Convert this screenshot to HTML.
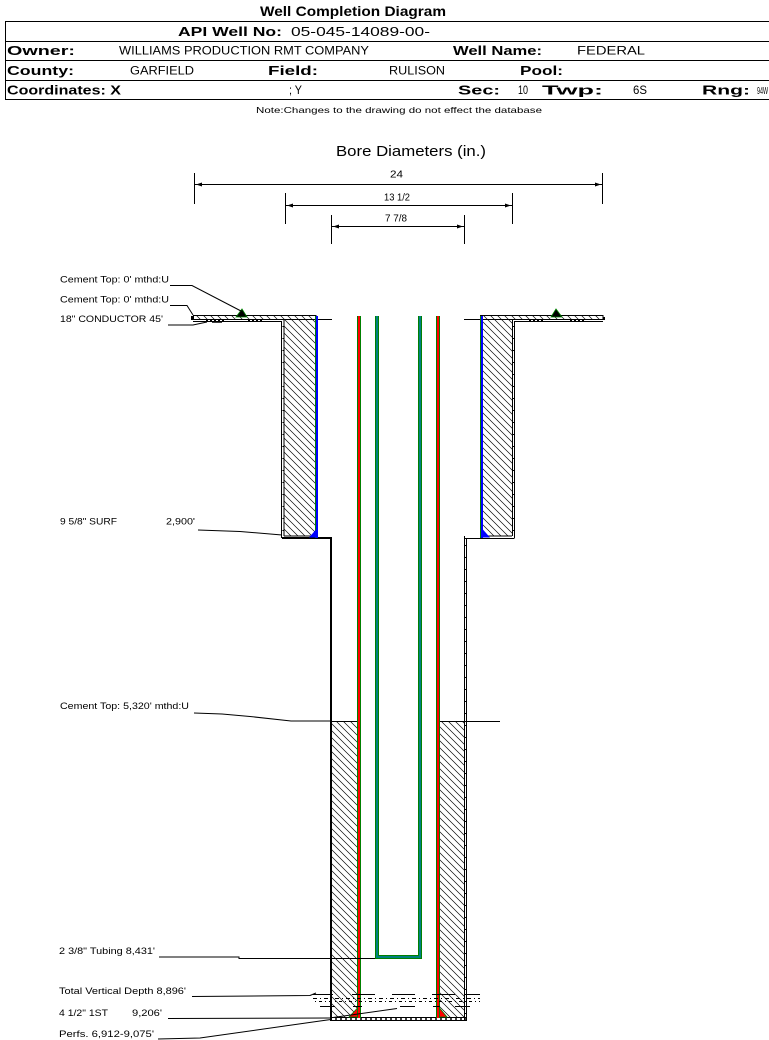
<!DOCTYPE html>
<html><head><meta charset="utf-8"><style>
html,body{margin:0;padding:0;background:#fff;}
svg{display:block;}
text{font-family:"Liberation Sans",Arial,sans-serif;fill:#000;}
.b{font-weight:bold;}
</style></head><body>
<svg width="769" height="1040" viewBox="0 0 769 1040" xmlns="http://www.w3.org/2000/svg">
<defs>
<pattern id="h" patternUnits="userSpaceOnUse" width="7" height="7">
<path d="M-1,-1 L8,8 M-1,6 L1,8 M6,-1 L8,1" stroke="#000" stroke-width="0.65" fill="none"/>
</pattern>
</defs>
<rect width="769" height="1040" fill="#fff"/>

<!-- Header -->
<text class="b" x="260" y="16" font-size="13.5" textLength="186" lengthAdjust="spacingAndGlyphs">Well Completion Diagram</text>
<g stroke="#000" stroke-width="1" fill="none">
<line x1="5" y1="21.5" x2="769" y2="21.5"/>
<line x1="5" y1="41.5" x2="769" y2="41.5"/>
<line x1="5" y1="60.5" x2="769" y2="60.5"/>
<line x1="5" y1="80.5" x2="769" y2="80.5"/>
<line x1="5" y1="99.5" x2="769" y2="99.5"/>
<line x1="5.5" y1="21.5" x2="5.5" y2="99.5"/>
</g>
<text class="b" x="178" y="36" font-size="13" textLength="104" lengthAdjust="spacingAndGlyphs">API Well No:</text>
<text x="291" y="36" font-size="13" textLength="139" lengthAdjust="spacingAndGlyphs">05-045-14089-00-</text>

<text class="b" x="7" y="55" font-size="13" textLength="68" lengthAdjust="spacingAndGlyphs">Owner:</text>
<text x="119" y="54.5" font-size="11.5" textLength="250" lengthAdjust="spacingAndGlyphs">WILLIAMS PRODUCTION RMT COMPANY</text>
<text class="b" x="453" y="55" font-size="13" textLength="89" lengthAdjust="spacingAndGlyphs">Well Name:</text>
<text x="577" y="54.5" font-size="11.5" textLength="68" lengthAdjust="spacingAndGlyphs">FEDERAL</text>

<text class="b" x="7" y="75" font-size="13" textLength="67" lengthAdjust="spacingAndGlyphs">County:</text>
<text x="130" y="74.5" font-size="11.5" textLength="64" lengthAdjust="spacingAndGlyphs">GARFIELD</text>
<text class="b" x="268" y="75" font-size="13" textLength="50" lengthAdjust="spacingAndGlyphs">Field:</text>
<text x="389" y="74.5" font-size="11.5" textLength="56" lengthAdjust="spacingAndGlyphs">RULISON</text>
<text class="b" x="520" y="75" font-size="13" textLength="43" lengthAdjust="spacingAndGlyphs">Pool:</text>

<text class="b" x="7" y="94.5" font-size="13" textLength="114" lengthAdjust="spacingAndGlyphs">Coordinates: X</text>
<text x="289" y="94" font-size="11.5" textLength="13" lengthAdjust="spacingAndGlyphs">; Y</text>
<text class="b" x="458" y="94.5" font-size="13" textLength="42" lengthAdjust="spacingAndGlyphs">Sec:</text>
<text x="518" y="94" font-size="11.5" textLength="10" lengthAdjust="spacingAndGlyphs">10</text>
<text class="b" x="542" y="94.5" font-size="13" textLength="61" lengthAdjust="spacingAndGlyphs">Twp:</text>
<text x="633" y="94" font-size="11.5" textLength="14" lengthAdjust="spacingAndGlyphs">6S</text>
<text class="b" x="702" y="94.5" font-size="13" textLength="48" lengthAdjust="spacingAndGlyphs">Rng:</text>
<text x="757" y="94" font-size="10" textLength="11" lengthAdjust="spacingAndGlyphs">94W</text>

<text x="256" y="113" font-size="8.5" textLength="286" lengthAdjust="spacingAndGlyphs">Note:Changes to the drawing do not effect the database</text>

<!-- Bore diameters -->
<text x="336" y="156" font-size="15" textLength="150" lengthAdjust="spacingAndGlyphs">Bore Diameters (in.)</text>
<g stroke="#000" stroke-width="1" fill="none">
<line x1="194.5" y1="173" x2="194.5" y2="204"/>
<line x1="602.5" y1="173" x2="602.5" y2="204"/>
<line x1="195" y1="184.5" x2="602" y2="184.5"/>
<line x1="285.5" y1="193" x2="285.5" y2="224"/>
<line x1="512.5" y1="193" x2="512.5" y2="224"/>
<line x1="286" y1="205.5" x2="512" y2="205.5"/>
<line x1="331.5" y1="215" x2="331.5" y2="244"/>
<line x1="464.5" y1="215" x2="464.5" y2="244"/>
<line x1="332" y1="226.5" x2="464" y2="226.5"/>
</g>
<g fill="#000">
<polygon points="196,184.5 202,182.5 202,186.5"/>
<polygon points="601,184.5 595,182.5 595,186.5"/>
<polygon points="287,205.5 293,203.5 293,207.5"/>
<polygon points="511,205.5 505,203.5 505,207.5"/>
<polygon points="333,226.5 339,224.5 339,228.5"/>
<polygon points="463,226.5 457,224.5 457,228.5"/>
</g>
<text x="390" y="177.5" font-size="10" textLength="13" lengthAdjust="spacingAndGlyphs">24</text>
<text x="384" y="200.5" font-size="10" textLength="26" lengthAdjust="spacingAndGlyphs">13 1/2</text>
<text x="385" y="221.5" font-size="10" textLength="22" lengthAdjust="spacingAndGlyphs">7 7/8</text>

<!-- Hatched cement regions -->
<rect x="193" y="316" width="123" height="3.5" fill="url(#h)"/>
<rect x="481" y="316" width="122" height="3.5" fill="url(#h)"/>
<rect x="284" y="320" width="31" height="216" fill="url(#h)"/>
<rect x="483" y="320" width="29" height="216" fill="url(#h)"/>
<rect x="332" y="721" width="25" height="296" fill="url(#h)"/>
<rect x="440" y="721" width="24" height="296" fill="url(#h)"/>

<!-- Conductor strips -->
<g stroke="#000" stroke-width="1" fill="none">
<rect x="193.5" y="315.5" width="122.5" height="4"/>
<rect x="480.5" y="315.5" width="122.5" height="4"/>
<line x1="316" y1="319.5" x2="332" y2="319.5"/>
<line x1="464" y1="319.5" x2="480" y2="319.5"/>
<polyline points="193,321.5 281.5,321.5 281.5,538"/>
<line x1="284" y1="320" x2="284" y2="536"/>
<polyline points="603,321.5 514.5,321.5 514.5,538"/>
<line x1="512.5" y1="320" x2="512.5" y2="536"/>
<line x1="284" y1="536" x2="315" y2="536"/>
<line x1="483" y1="536" x2="512" y2="536"/>
<line x1="465" y1="538.5" x2="514.5" y2="538.5"/>
<line x1="464.5" y1="536" x2="464.5" y2="1020"/>
<line x1="466.5" y1="538" x2="466.5" y2="1021"/>
<line x1="331" y1="1017.5" x2="467" y2="1017.5"/>
<line x1="331" y1="1020.5" x2="467" y2="1020.5"/>
</g>
<polyline points="282,538 331,538 331,1021" stroke="#000" stroke-width="2" fill="none"/>
<g stroke="#000" stroke-width="1.2" stroke-dasharray="1 11" fill="none">
<line x1="283" y1="326" x2="283" y2="536"/>
<line x1="513.5" y1="326" x2="513.5" y2="536"/>
<line x1="465.5" y1="545" x2="465.5" y2="1017"/>
<line x1="335" y1="1019" x2="466" y2="1019" stroke-dasharray="2 3" stroke-width="1.5"/>
<line x1="206" y1="320.5" x2="226" y2="320.5" stroke-dasharray="2 2" stroke-width="2"/>
<line x1="248" y1="320.5" x2="263" y2="320.5" stroke-dasharray="2 2" stroke-width="2"/>
<line x1="529" y1="320.5" x2="544" y2="320.5" stroke-dasharray="2 2" stroke-width="2"/>
<line x1="570" y1="320.5" x2="584" y2="320.5" stroke-dasharray="2 2" stroke-width="2"/>
</g>
<rect x="603" y="317" width="2" height="3" fill="#000"/>
<rect x="191" y="316" width="2" height="4" fill="#000"/>

<!-- Cement top lines -->
<g stroke="#000" stroke-width="1" fill="none">
<polyline points="194,713 222,714 250,716.5 291,721 331,721"/>
<line x1="332" y1="721.5" x2="357" y2="721.5"/>
<line x1="440" y1="721.5" x2="500" y2="721.5"/>
</g>

<!-- Surface casing (blue) -->
<rect x="315" y="316" width="1" height="222" fill="#008000"/>
<rect x="316" y="316" width="2" height="222" fill="#0000ff"/>
<rect x="480" y="316" width="1" height="222" fill="#008000"/>
<rect x="481" y="316" width="2" height="222" fill="#0000ff"/>
<polygon points="309,537.5 316.5,537.5 316.5,529" fill="#0000ff"/>
<polygon points="482.5,529 482.5,537.5 490,537.5" fill="#0000ff"/>

<!-- Production casing (red) -->
<rect x="357" y="316" width="4" height="702" fill="#008000"/>
<rect x="358" y="316" width="2" height="702" fill="#ff0000"/>
<rect x="436" y="316" width="4" height="702" fill="#008000"/>
<rect x="437" y="316" width="2" height="702" fill="#ff0000"/>
<polygon points="357.5,1008 357.5,1017 349,1017" fill="#ff0000" stroke="#008000" stroke-width="0.8"/>
<polygon points="439.5,1008 439.5,1017 447,1017" fill="#ff0000" stroke="#008000" stroke-width="0.8"/>

<!-- Tubing -->
<polyline points="377,316 377,957 420,957 420,316" fill="none" stroke="#008000" stroke-width="4"/>
<polyline points="377,316 377,957 420,957 420,316" fill="none" stroke="#008080" stroke-width="2"/>

<!-- Cement top markers -->
<polygon points="236,317 242,309 247,317" fill="#000" stroke="#008000" stroke-width="0.8"/>
<polygon points="551,317 556,309 562,317" fill="#000" stroke="#008000" stroke-width="0.8"/>

<!-- Perforation / TVD pattern -->
<g stroke="#000" fill="none">
<line x1="313" y1="994.5" x2="333" y2="994.5" stroke-width="1"/>
<line x1="352" y1="994.5" x2="375" y2="994.5" stroke-width="1"/>
<line x1="392" y1="994.5" x2="415" y2="994.5" stroke-width="1"/>
<line x1="432" y1="994.5" x2="455" y2="994.5" stroke-width="1"/>
<line x1="465" y1="994.5" x2="480" y2="994.5" stroke-width="1"/>
<line x1="313" y1="998.5" x2="480" y2="998.5" stroke-width="1" stroke-dasharray="4 3 1 3"/>
<line x1="315" y1="1001.5" x2="480" y2="1001.5" stroke-width="1" stroke-dasharray="1 3 3 3"/>
<line x1="320" y1="1006.5" x2="335" y2="1006.5" stroke-width="1"/>
<line x1="353" y1="1006.5" x2="362" y2="1006.5" stroke-width="1"/>
<line x1="400" y1="1006.5" x2="415" y2="1006.5" stroke-width="1"/>
<line x1="433" y1="1006.5" x2="440" y2="1006.5" stroke-width="1"/>
<line x1="455" y1="1006.5" x2="470" y2="1006.5" stroke-width="1"/>
</g>

<!-- Leader lines -->
<g stroke="#000" stroke-width="1" fill="none">
<polyline points="170,285.5 192,285.5 241,311"/>
<polyline points="170,305.5 187,305.5 193,315"/>
<polyline points="168,325 193,325 207,322"/>
<line x1="212" y1="322" x2="222" y2="322" stroke-width="1.5"/>
<polyline points="198,530 240,531.5 282,535"/>
<polyline points="159,957 239,957 239,958.5 375,958.5"/>
<polyline points="192,996.5 310,995.5 316,993"/>
<polyline points="168,1018.5 331,1018"/>
<polyline points="158,1039 200,1038 320,1021 331,1019.5"/>
<line x1="333" y1="1017.5" x2="397" y2="1008.5"/>
</g>

<!-- Left labels -->
<text x="60" y="282.5" font-size="9.5" textLength="109" lengthAdjust="spacingAndGlyphs">Cement Top: 0' mthd:U</text>
<text x="60" y="302.5" font-size="9.5" textLength="109" lengthAdjust="spacingAndGlyphs">Cement Top: 0' mthd:U</text>
<text x="60" y="322" font-size="9.5" textLength="103" lengthAdjust="spacingAndGlyphs">18" CONDUCTOR  45'</text>
<text x="60" y="524.5" font-size="9.5" textLength="57" lengthAdjust="spacingAndGlyphs">9 5/8" SURF</text>
<text x="166" y="524.5" font-size="9.5" textLength="29" lengthAdjust="spacingAndGlyphs">2,900'</text>
<text x="60" y="709" font-size="9.5" textLength="129" lengthAdjust="spacingAndGlyphs">Cement Top: 5,320' mthd:U</text>
<text x="59" y="954" font-size="9.5" textLength="96" lengthAdjust="spacingAndGlyphs">2 3/8" Tubing 8,431'</text>
<text x="59" y="994" font-size="9.5" textLength="127" lengthAdjust="spacingAndGlyphs">Total Vertical Depth 8,896'</text>
<text x="59" y="1016" font-size="9.5" textLength="49" lengthAdjust="spacingAndGlyphs">4 1/2" 1ST</text>
<text x="132" y="1016" font-size="9.5" textLength="30" lengthAdjust="spacingAndGlyphs">9,206'</text>
<text x="59" y="1037" font-size="9.5" textLength="95" lengthAdjust="spacingAndGlyphs">Perfs. 6,912-9,075'</text>
</svg>
</body></html>
